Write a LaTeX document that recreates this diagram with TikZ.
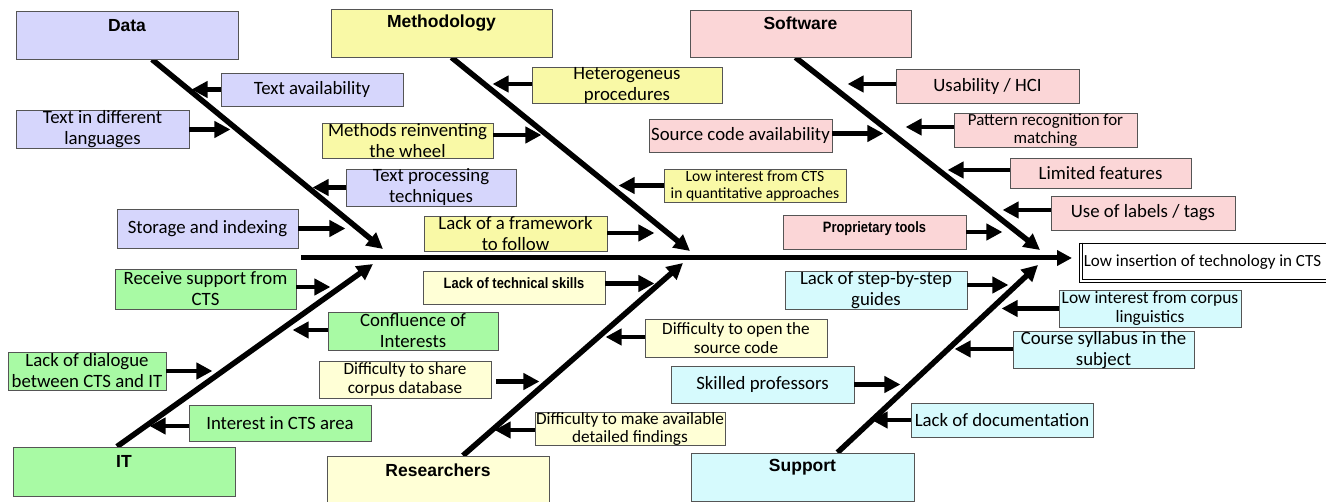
\documentclass[tikz,border=0pt]{standalone}
\usepackage{fontspec}
\usepackage{graphicx}
\setmainfont{Carlito}
\newfontfamily\headfont{Liberation Sans}
\usetikzlibrary{arrows.meta,calc,backgrounds}

\definecolor{lavC}{RGB}{214,214,252}
\definecolor{yelC}{RGB}{249,249,166}
\definecolor{pinkC}{RGB}{251,214,215}
\definecolor{greenC}{RGB}{168,250,164}
\definecolor{creamC}{RGB}{255,255,214}
\definecolor{cyanC}{RGB}{214,250,253}
\definecolor{edgeC}{RGB}{85,85,85}

% cause box from its corners: name, x1, y1, x2, y2, style, text
\newcommand\cbox[7]{%
  \node[cause,#6,minimum width={(#4)-(#2)},minimum height={(#5)-(#3)}]
    (#1) at ({((#2)+(#4))/2},{((#3)+(#5))/2}) {#7};}

\tikzset{
  cause/.style={draw=edgeC,line width=0.9pt,inner sep=0pt,align=center,
    font=\fontsize{18.8}{21}\selectfont},
  smalltext/.style={font=\fontsize{17.2}{18.5}\selectfont},
  tinytext/.style={font=\fontsize{15.6}{16.8}\selectfont},
  headbox/.style={draw=edgeC,line width=0.9pt,inner sep=0pt},
  headtext/.style={font=\headfont\bfseries\fontsize{17.5}{20}\selectfont,inner sep=0pt},
  narrowbold/.style={font=\headfont\bfseries\fontsize{15}{17}\selectfont},
  arr/.style={line width=4.8pt,-{Triangle[length=16pt,width=16pt]}},
  bone/.style={line width=5.5pt,-{Triangle[length=16pt,width=16pt]}},
  spine/.style={line width=5pt,-{Triangle[length=15pt,width=15pt]}},
}

\begin{document}
\begin{tikzpicture}[x=1pt,y=-1pt]
\useasboundingbox (0,0) rectangle (1326,502);

% ---------- main categories ----------
\node[headbox,fill=lavC,minimum width=222,minimum height=48] (data) at (127,35) {};
\node[headtext] (dataT) at (127,26) {Data};
\node[headbox,fill=yelC,minimum width=221,minimum height=48] (meth) at (441.5,33) {};
\node[headtext] (methT) at (441.5,23) {Methodology};
\node[headbox,fill=pinkC,minimum width=221,minimum height=47] (soft) at (800.5,33.5) {};
\node[headtext] (softT) at (800.5,23) {Software};
\node[headbox,fill=greenC,minimum width=222,minimum height=49] (it) at (124,471.5) {};
\node[headtext] (itT) at (124,461) {IT};
\node[headbox,fill=creamC,minimum width=222,minimum height=46] (res) at (438,479) {};
\node[headtext] (resT) at (438,470) {Researchers};
\node[headbox,fill=cyanC,minimum width=223,minimum height=48] (sup) at (802.5,477) {};
\node[headtext] (supT) at (802.5,467) {Support};

% ---------- effect ----------
\node[draw=black,fill=white,line width=0.9pt,inner sep=0pt,
      minimum width=247,minimum height=39,font=\fontsize{17}{19}\selectfont]
  (effect) at (1202.5,262.5) {Low insertion of technology in CTS};
\draw[line width=0.9pt] ($(effect.north west)+(4,0)$) |- ($(effect.south east)+(0,-2.5)$);

% ---------- spine and bones ----------
\coordinate (spineS) at (301,258);
\coordinate (spineE) at (1072,258);
\coordinate (dataTip) at (383,249);
\coordinate (methTip) at (690,251);
\coordinate (softTip) at (1040,250);
\coordinate (itTip) at (373,264);
\coordinate (resTip) at (683,263);
\coordinate (supTip) at (1038,265);
\begin{scope}[on background layer]
  \draw[spine] (spineS) -- (spineE);
  \draw[bone] ($(data.south)+(25,0)$) -- (dataTip);
  \draw[bone] ($(meth.south)+(10,0)$) -- (methTip);
  \draw[bone] ($(soft.south)+(-5,0)$) -- (softTip);
  \draw[bone] ($(it.north)+(-7,0)$) -- (itTip);
  \draw[bone] ($(res.north)+(25,0)$) -- (resTip);
  \draw[bone] ($(sup.north)+(35,0)$) -- (supTip);
\end{scope}

% ---------- Data causes ----------
\cbox{tAvail}{221}{73}{403}{106}{fill=lavC}{Text availability}
\cbox{tLang}{16}{111}{189}{148}{fill=lavC}{Text in different\\languages}
\cbox{tProc}{346}{170}{516}{205}{fill=lavC}{Text processing\\techniques}
\cbox{tStore}{117}{209}{298}{248}{fill=lavC}{Storage and indexing}
\draw[arr] (tAvail.west) -- ++(-29,0);
\draw[arr] (tLang.east) -- ++(41,0);
\draw[arr] (tProc.west) -- ++(-33,0);
\draw[arr] (tStore.east) -- ++(47,0);

% ---------- Methodology causes ----------
\cbox{mHet}{532}{69}{722}{102}{fill=yelC}{Heterogeneus\\procedures}
\cbox{mWheel}{322}{124}{493}{158}{fill=yelC}{Methods reinventing\\the wheel}
\cbox{mLow}{664}{169}{846}{202}{fill=yelC,tinytext}{Low interest from CTS\\in quantitative approaches}
\cbox{mFrame}{424}{217}{607}{251}{fill=yelC}{Lack of a framework\\to follow}
\draw[arr] ($(mHet.west)+(0,-1.5)$) -- ++(-39,0);
\draw[arr] ($(mWheel.east)+(0,-6)$) -- ++(48,0);
\draw[arr] (mLow.west) -- ++(-45,0);
\draw[arr] ($(mFrame.east)+(0,-1)$) -- ++(47,0);

% ---------- Software causes ----------
\cbox{sUse}{896}{69}{1079}{103}{fill=pinkC}{Usability / HCI}
\cbox{sCode}{649}{119}{832}{152}{fill=pinkC}{Source code availability}
\cbox{sPat}{954}{113}{1137}{147}{fill=pinkC,font=\fontsize{16.9}{18}\selectfont}{Pattern recognition for\\matching}
\cbox{sFeat}{1010}{158}{1191}{188}{fill=pinkC}{Limited features}
\cbox{sTags}{1051}{196}{1235}{230}{fill=pinkC}{Use of labels / tags}
\cbox{sProp}{783}{215}{966}{249}{fill=pinkC}{\raisebox{10pt}{\scalebox{0.86}[1]{\headfont\bfseries\fontsize{15}{17}\selectfont Proprietary tools}}}
\draw[arr] ($(sUse.west)+(0,-2)$) -- ++(-48,0);
\draw[arr] ($(sCode.east)+(0,-2)$) -- ++(51,0);
\draw[arr] ($(sPat.west)+(0,-3)$) -- ++(-48,0);
\draw[arr] ($(sFeat.west)+(0,-3)$) -- ++(-62,0);
\draw[arr] ($(sTags.west)+(0,-3)$) -- ++(-48,0);
\draw[arr] (sProp.east) -- ++(36,0);

% ---------- IT causes ----------
\cbox{iSupp}{115}{269}{296}{309}{fill=greenC}{Receive support from\\CTS}
\cbox{iConf}{328}{312}{498}{350}{fill=greenC}{Confluence of\\Interests}
\cbox{iDial}{8}{352}{166}{390}{fill=greenC}{Lack of dialogue\\between CTS and IT}
\cbox{iInt}{189}{405}{371}{441}{fill=greenC}{Interest in CTS area}
\draw[arr] ($(iSupp.east)+(0,-2)$) -- ++(34,0);
\draw[arr] ($(iConf.west)+(0,-1)$) -- ++(-35,0);
\draw[arr] (iDial.east) -- ++(46,0);
\draw[arr] ($(iInt.west)+(0,3)$) -- ++(-39,0);

% ---------- Researchers causes ----------
\cbox{rSkill}{423}{271}{605}{304}{fill=creamC}{\raisebox{9pt}{\scalebox{0.86}[1]{\headfont\bfseries\fontsize{15}{17}\selectfont Lack of technical skills}}}
\cbox{rShare}{319}{361}{491}{398}{fill=creamC,smalltext}{Difficulty to share\\corpus database}
\cbox{rOpen}{645}{319}{827}{357}{fill=creamC,smalltext}{Difficulty to open the\\source code}
\cbox{rFind}{535}{413}{725}{445}{fill=creamC,smalltext}{Difficulty to make available\\detailed findings}
\draw[arr] ($(rSkill.east)+(0,-4)$) -- ++(49,0);
\draw[arr] ($(rShare.east)+(5,2)$) -- ++(43,0);
\draw[arr] ($(rOpen.west)+(0,-1)$) -- ++(-39,0);
\draw[arr] ($(rFind.west)+(0,1)$) -- ++(-40,0);

% ---------- Support causes ----------
\cbox{uGuide}{785}{271}{967}{309}{fill=cyanC}{Lack of step-by-step\\guides}
\cbox{uCorp}{1059}{290}{1241}{327}{fill=cyanC,font=\fontsize{17.4}{19}\selectfont}{Low interest from corpus\\linguistics}
\cbox{uSyl}{1013}{332}{1194}{368}{fill=cyanC}{Course syllabus in the\\subject}
\cbox{uProf}{671}{366}{854}{403}{fill=cyanC}{Skilled professors}
\cbox{uDoc}{911}{403}{1093}{437}{fill=cyanC}{Lack of documentation}
\draw[arr] ($(uGuide.east)+(0,-5)$) -- ++(41,0);
\draw[arr] (uCorp.west) -- ++(-57,0);
\draw[arr] ($(uSyl.west)+(0,-1)$) -- ++(-58,0);
\draw[arr] (uProf.east) -- ++(46,0);
\draw[arr] (uDoc.west) -- ++(-39,0);
\end{tikzpicture}
\end{document}
